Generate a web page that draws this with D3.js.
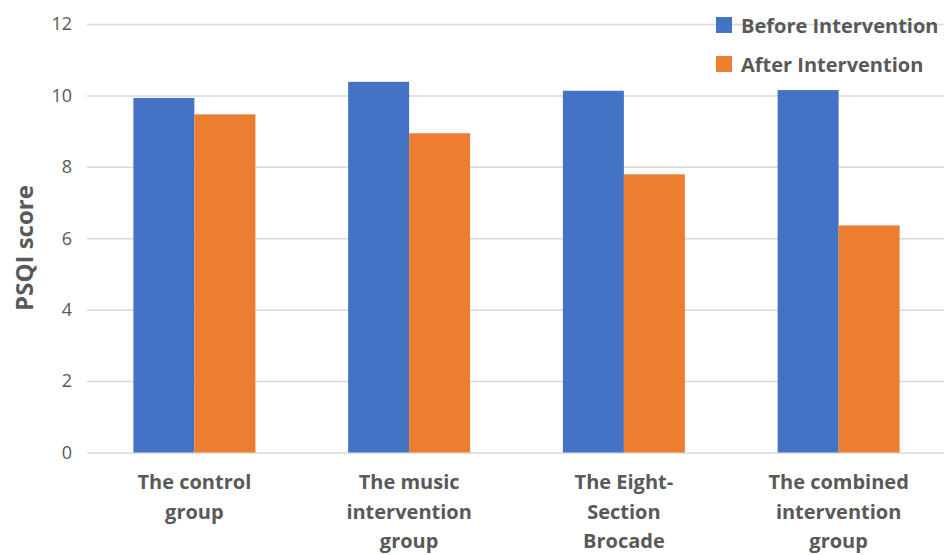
<!DOCTYPE html>
<html>
<head>
<meta charset="utf-8">
<script src="https://cdn.jsdelivr.net/npm/d3@7"></script>
<style>
  html, body { margin: 0; padding: 0; background: #fff; }
  svg { display: block; }
  text { font-family: "Open Sans", "Noto Sans", sans-serif; fill: #595959; }
</style>
</head>
<body>
<svg id="chart" width="944" height="555"></svg>
<script>
// PSQI scores per group, before and after the intervention
const categories = [
  "The control\ngroup",
  "The music\nintervention\ngroup",
  "The Eight-\nSection\nBrocade",
  "The combined\nintervention\ngroup"
];
const seriesNames = ["Before Intervention", "After Intervention"];
const beforeValues = [9.93, 10.38, 10.13, 10.15];
const afterValues = [9.47, 8.94, 7.79, 6.36];
const yTicks = [0, 2, 4, 6, 8, 10, 12];
const colors = ["#4472C4", "#ED7D31"];

const svg = d3.select("#chart");
const plotLeft = 87, plotRight = 946, plotTop = 24, plotBottom = 452.5;

const x = d3.scaleBand()
  .domain(categories)
  .range([plotLeft, plotRight])
  .paddingInner(0.432)
  .paddingOuter(0.216);

const xs = d3.scaleBand()
  .domain(seriesNames)
  .range([0, x.bandwidth()]);

const y = d3.scaleLinear().domain([0, 12]).range([plotBottom, plotTop]);

// gridlines and y tick labels
const yAxis = svg.append("g")
  .attr("transform", `translate(${plotLeft},0)`)
  .call(d3.axisLeft(y).tickValues(yTicks).tickSize(-(944 - plotLeft)).tickPadding(15).tickFormat(d3.format("d")));
yAxis.select(".domain").remove();
yAxis.selectAll(".tick line").attr("stroke", "#D9D9D9").attr("stroke-width", 1.5);
yAxis.selectAll(".tick text")
  .style("font-size", "18px")
  .style("fill", "#595959");

// bars
const rows = categories.map((c, i) => ({ cat: c, vals: [beforeValues[i], afterValues[i]] }));
const groups = svg.append("g").selectAll("g")
  .data(rows)
  .join("g")
  .attr("transform", d => `translate(${x(d.cat)},0)`);
groups.selectAll("rect")
  .data(d => d.vals.map((v, j) => ({ key: seriesNames[j], v, j })))
  .join("rect")
  .attr("x", d => xs(d.key))
  .attr("y", d => y(d.v))
  .attr("width", xs.bandwidth())
  .attr("height", d => y(0) - y(d.v))
  .attr("fill", d => colors[d.j]);

// category labels
const xLabels = svg.append("g");
categories.forEach(c => {
  const t = xLabels.append("text")
    .attr("x", x(c) + x.bandwidth() / 2)
    .attr("y", 489)
    .attr("text-anchor", "middle")
    .style("font-size", "20px")
    .style("font-weight", "bold");
  c.split("\n").forEach((line, k) => {
    t.append("tspan")
      .attr("x", x(c) + x.bandwidth() / 2)
      .attr("dy", k === 0 ? 0 : 29.5)
      .text(line);
  });
});

// y axis title
svg.append("text")
  .attr("transform", "translate(33,248) rotate(-90)")
  .attr("text-anchor", "middle")
  .style("font-size", "24px")
  .style("font-weight", "bold")
  .text("PSQI score");

// legend
const legend = svg.append("g").attr("transform", "translate(716,17)");
seriesNames.forEach((name, i) => {
  const g = legend.append("g").attr("transform", `translate(0,${i * 39})`);
  g.append("rect").attr("width", 16).attr("height", 16).attr("fill", colors[i]);
  g.append("text")
    .attr("x", 25)
    .attr("y", 15.5)
    .style("font-size", "20px")
    .style("font-weight", "bold")
    .text(name);
});
</script>
</body>
</html>
